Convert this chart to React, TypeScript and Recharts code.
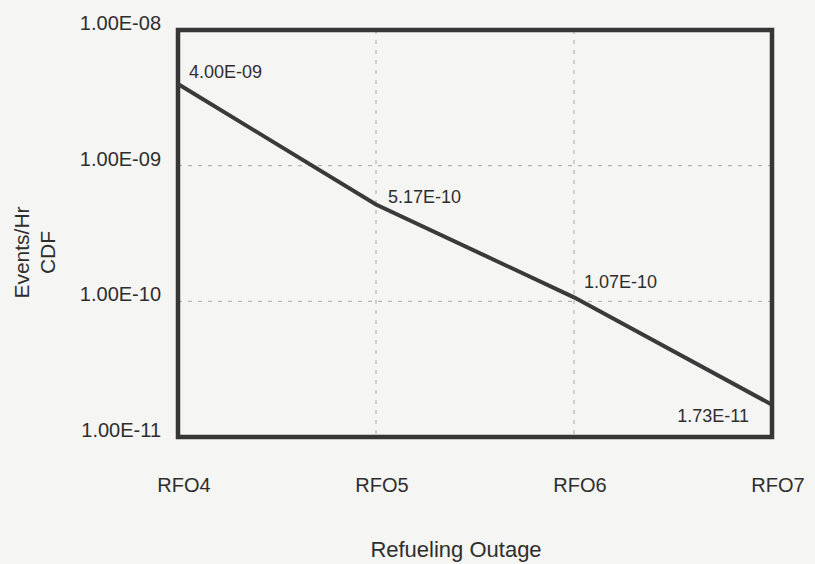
import React from 'react';
import { LineChart, Line, XAxis, YAxis, CartesianGrid, ReferenceArea, LabelList, Label } from 'recharts';

const categories = ['RFO4', 'RFO5', 'RFO6', 'RFO7'];
const cdfValues = [4.0e-9, 5.17e-10, 1.07e-10, 1.73e-11];
const valueLabels = ['4.00E-09', '5.17E-10', '1.07E-10', '1.73E-11'];
const yTicks = [1e-11, 1e-10, 1e-9, 1e-8];
const yTickLabels = ['1.00E-11', '1.00E-10', '1.00E-09', '1.00E-08'];
const xTitle = 'Refueling Outage';
const yTitleLines = ['Events/Hr', 'CDF'];

const data = categories.map((c, i) => ({ cat: c, cdf: cdfValues[i], label: valueLabels[i] }));

const FONT = '"Liberation Sans", Arial, sans-serif';
const TEXT = '#2e2e2e';

const labelOffsets = [
  { dx: 11, dy: -12, anchor: 'start' },
  { dx: 12, dy: -8, anchor: 'start' },
  { dx: 10, dy: -15, anchor: 'start' },
  { dx: -23, dy: 11, anchor: 'end' },
];

const YTick = (props: any) => {
  const { x, y, payload } = props;
  const idx = yTicks.indexOf(payload.value);
  return (
    <text x={x} y={y - 7} textAnchor="end" dominantBaseline="central" fontFamily={FONT} fontSize={20} fill={TEXT}>
      {idx >= 0 ? yTickLabels[idx] : ''}
    </text>
  );
};

const XTick = (props: any) => {
  const { x, y, payload } = props;
  return (
    <text x={x + 6} y={y} textAnchor="middle" dominantBaseline="central" fontFamily={FONT} fontSize={20} fill={TEXT}>
      {payload.value}
    </text>
  );
};

const PointLabel = (props: any) => {
  const { x, y, index } = props;
  const o = labelOffsets[index] || { dx: 8, dy: -10, anchor: 'start' };
  return (
    <text x={x + o.dx} y={y + o.dy} textAnchor={o.anchor} dominantBaseline="central" fontFamily={FONT} fontSize={18} fill={TEXT}>
      {valueLabels[index]}
    </text>
  );
};

const XTitle = (props: any) => {
  const vb = props.viewBox || {};
  const cx = vb.x + vb.width / 2 - 19;
  const cy = vb.y + 112;
  return (
    <text x={cx} y={cy} textAnchor="middle" dominantBaseline="central" fontFamily={FONT} fontSize={22} fill={TEXT}>
      {xTitle}
    </text>
  );
};

const YTitle = (props: any) => {
  const vb = props.viewBox || {};
  const cy = vb.y + vb.height / 2 + 19;
  const x1 = 21;
  const x2 = 47;
  return (
    <g>
      <text x={x1} y={cy} transform={`rotate(-90, ${x1}, ${cy})`} textAnchor="middle" dominantBaseline="central" fontFamily={FONT} fontSize={21} fill={TEXT}>
        {yTitleLines[0]}
      </text>
      <text x={x2} y={cy} transform={`rotate(-90, ${x2}, ${cy})`} textAnchor="middle" dominantBaseline="central" fontFamily={FONT} fontSize={21} fill={TEXT}>
        {yTitleLines[1]}
      </text>
    </g>
  );
};

export default function App() {
  return (
    <div style={{ position: 'absolute', left: 0, top: 0, width: 815, height: 564, background: '#f5f5f3' }}>
      <LineChart width={815} height={564} data={data} margin={{ top: 30, right: 43, bottom: 0, left: 0 }}>
        <CartesianGrid stroke="#a8a8a8" strokeDasharray="4 6" strokeWidth={1} />
        <XAxis
          dataKey="cat"
          height={127}
          tickSize={0}
          tickMargin={48}
          axisLine={false}
          tick={<XTick />}
          interval={0}
        >
          <Label content={<XTitle />} />
        </XAxis>
        <YAxis
          scale="log"
          domain={[1e-11, 1e-8]}
          ticks={yTicks}
          allowDataOverflow
          width={178}
          tickSize={0}
          tickMargin={17}
          axisLine={false}
          tick={<YTick />}
          interval={0}
        >
          <Label content={<YTitle />} />
        </YAxis>
        <Line
          type="linear"
          dataKey="cdf"
          stroke="#3a3a3a"
          strokeWidth={4}
          dot={false}
          activeDot={false}
          isAnimationActive={false}
        >
          <LabelList dataKey="label" content={<PointLabel />} />
        </Line>
        <ReferenceArea y1={1e-11} y2={1e-8} fill="none" stroke="#363636" strokeWidth={4.5} ifOverflow="visible" />
      </LineChart>
    </div>
  );
}
